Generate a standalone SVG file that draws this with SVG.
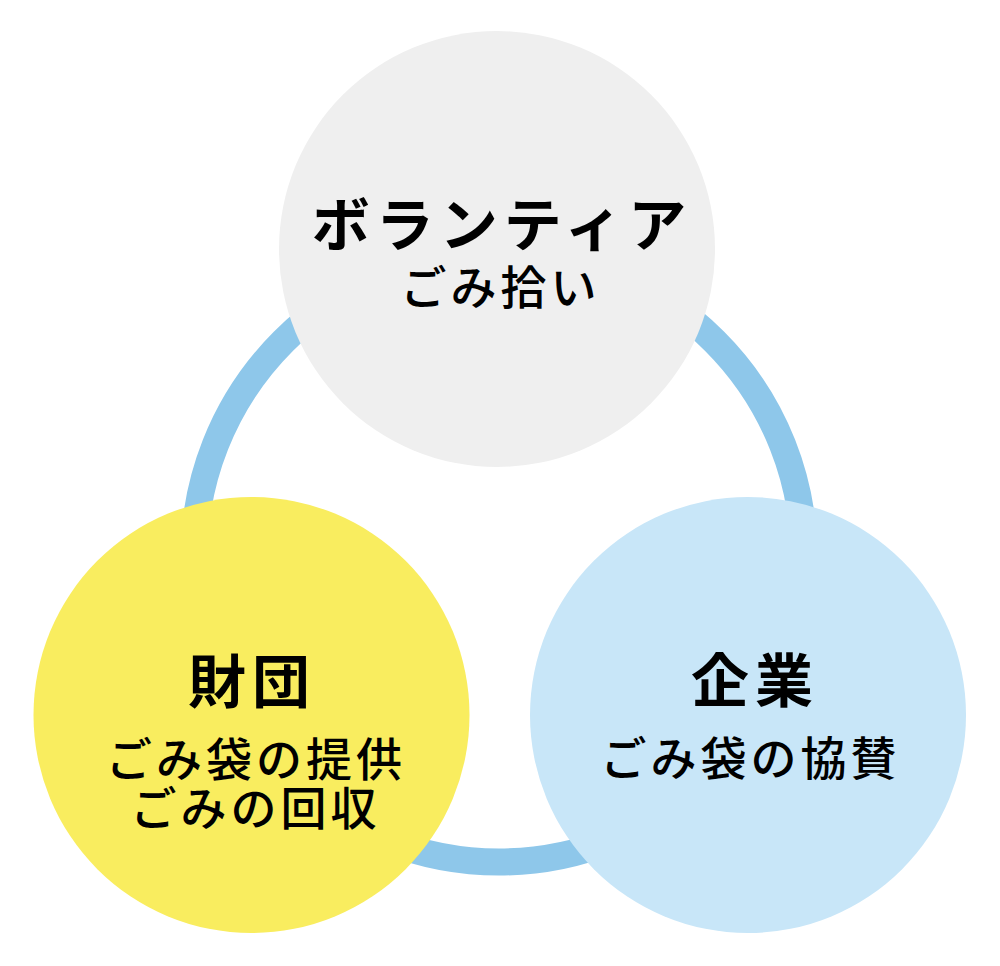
<svg xmlns="http://www.w3.org/2000/svg" width="1000" height="966" viewBox="0 0 1000 966">
  <style>
    .t { font-family: "Noto Sans CJK JP", "Noto Sans CJK SC", sans-serif; fill: #000; text-anchor: middle; dominant-baseline: central; }
    .h { font-size: 58px; font-weight: 700; letter-spacing: 6px; }
    .s { font-size: 46px; font-weight: 500; letter-spacing: 4px; }
  </style>
  <rect width="1000" height="966" fill="#ffffff"/>
  <g id="connectors">
    <circle cx="499" cy="557" r="305" fill="none" stroke="#8ec7ea" stroke-width="27"/>
  </g>
  <g id="volunteer">
    <circle cx="497" cy="249" r="218" fill="#efefef"/>
    <text class="t h" x="502" y="221">ボランティア</text>
    <text class="t s" x="500.5" y="284">ごみ拾い</text>
  </g>
  <g id="foundation">
    <circle cx="251.5" cy="715" r="218" fill="#f9ed5f"/>
    <text class="t h" x="252" y="678">財団</text>
    <text class="t s" x="256" y="756">ごみ袋の提供</text>
    <text class="t s" x="255.5" y="805">ごみの回収</text>
  </g>
  <g id="company">
    <circle cx="748" cy="715" r="218" fill="#c8e6f8"/>
    <text class="t h" x="755" y="677">企業</text>
    <text class="t s" x="750.5" y="755">ごみ袋の協賛</text>
  </g>
</svg>
